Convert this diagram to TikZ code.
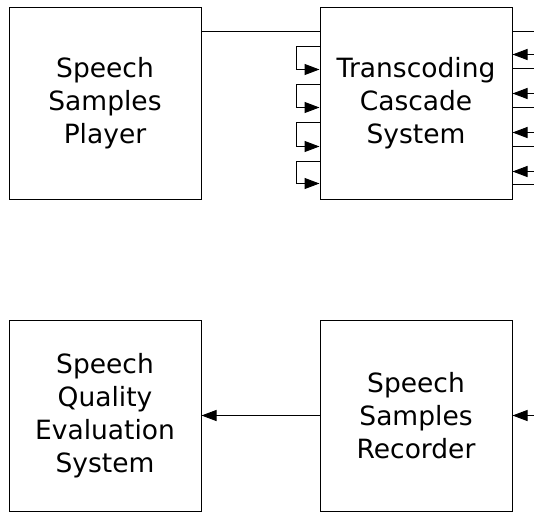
\documentclass[tikz,border=0pt]{standalone}
\usepackage{fontspec}
\setmainfont{DejaVu Sans}
\usetikzlibrary{arrows.meta}
\begin{document}
\begin{tikzpicture}[x=1pt,y=-1pt,
  box/.style={draw,line width=1pt,minimum width=192pt,minimum height=191pt,inner sep=0pt,align=center,font=\fontsize{26.5}{33}\selectfont},
  wire/.style={line width=1pt},
  arr/.style={line width=1pt,-{Triangle[length=15pt,width=11pt]}}]
\useasboundingbox (0,0) rectangle (534,511);
\node[box] (player) at (105,103.5) {Speech\\Samples\\Player};
\node[box] (tcs) at (416,103.5) {Transcoding\\Cascade\\System};
\node[box] (sqes) at (105,415.5) {Speech\\Quality\\Evaluation\\System};
\node[box] (rec) at (416,415.5) {Speech\\Samples\\Recorder};
\coordinate (edge) at (534,0);
% player to transcoder
\draw[wire] ([yshift=-24pt]player.north east) -- ([yshift=-24pt]tcs.north west);
% left loops
\foreach \t/\b in {39/62,77/100,115/139,154/176}{
  \draw[arr] ([yshift=-\t pt]tcs.north west) -- ++(-23,0) |- ([yshift=-\b pt]tcs.north west);
}
% right plain lines
\foreach \t in {24,61,100,139,177}{
  \draw[wire] ([yshift=-\t pt]tcs.north east) -- ([yshift=-\t pt]tcs.north east -| edge);
}
% right arrows
\foreach \t in {47,86,125,164}{
  \draw[arr] ([yshift=-\t pt]tcs.north east -| edge) -- ([yshift=-\t pt]tcs.north east);
}
% bottom
\draw[arr] (rec.west) -- (sqes.east);
\draw[arr] (rec.east -| edge) -- (rec.east);
\end{tikzpicture}
\end{document}
